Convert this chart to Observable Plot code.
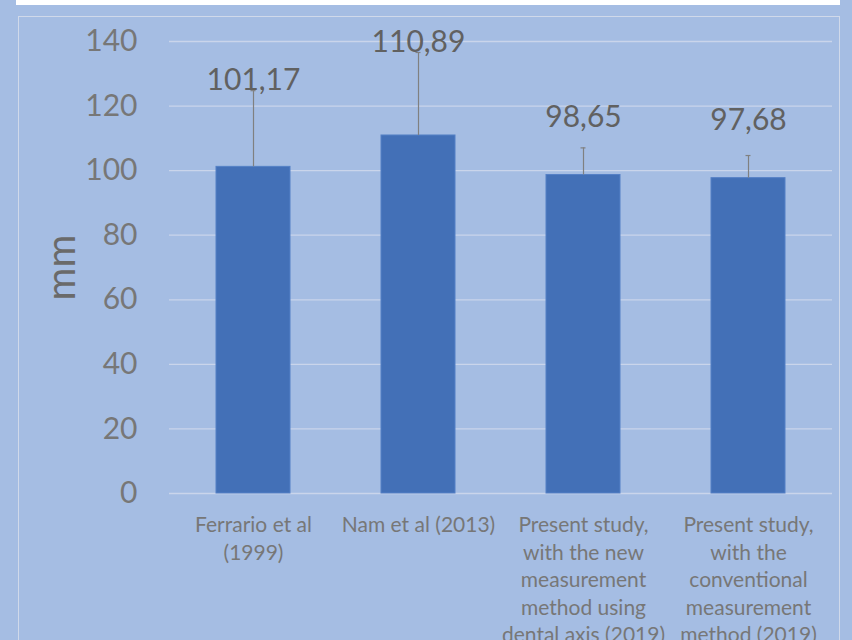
<!DOCTYPE html>
<html>
<head>
<meta charset="utf-8">
<script src="https://cdn.jsdelivr.net/npm/d3@7"></script>
<script src="https://cdn.jsdelivr.net/npm/@observablehq/plot@0.6"></script>
<style>
  html, body { margin: 0; padding: 0; background: #A5BDE3; width: 852px; height: 640px; overflow: hidden; }
  #wrap { position: relative; width: 852px; height: 640px; }
  #topbar { position: absolute; left: 16px; top: 0; width: 824px; height: 5px; background: #ffffff; }
  #frame { position: absolute; left: 17.5px; top: 15.5px; width: 822px; height: 660px; border: 1.5px solid #D0D9EA; box-sizing: border-box; }
  #chart { position: absolute; left: 0; top: 0; }
</style>
</head>
<body>
<div id="wrap">
  <div id="topbar"></div>
  <div id="frame"></div>
  <div id="chart"></div>
</div>
<script>
const categories = [
  "Ferrario et al\n(1999)",
  "Nam et al (2013)",
  "Present study,\nwith the new\nmeasurement\nmethod using\ndental axis (2019)",
  "Present study,\nwith the\nconventional\nmeasurement\nmethod (2019)"
];
const means = [101.17, 110.89, 98.65, 97.68];
const sds = [23.6, 25.7, 8.4, 7.0];
const yTicks = [0, 20, 40, 60, 80, 100, 120, 140];
const axisTitle = "mm";

const rows = categories.map((c, i) => ({ category: c, mean: means[i], sd: sds[i] }));
const fmt = v => v.toFixed(2).replace(".", ",");

const chart = Plot.plot({
  width: 852,
  height: 640,
  marginTop: 41,
  marginBottom: 147,
  marginLeft: 169,
  marginRight: 20,
  style: { background: "transparent", color: "#777777", fontFamily: "Lato, 'Open Sans', sans-serif", overflow: "visible" },
  x: { domain: categories, paddingInner: 0.553, paddingOuter: 0.2765, axis: null },
  y: { domain: [0, 140], axis: null },
  marks: [
    Plot.gridY(yTicks, { stroke: "#CAD5EB", strokeOpacity: 1, strokeWidth: 1.3 }),
    Plot.barY(rows, { x: "category", y: "mean", fill: "#4370B7", stroke: "#5580C6", strokeWidth: 1 }),
    Plot.ruleX(rows, { x: "category", y1: "mean", y2: d => d.mean + d.sd, stroke: "#808080", strokeWidth: 1.2 }),
    Plot.tickY(rows, { x: "category", y: d => d.mean + d.sd, stroke: "#808080", strokeWidth: 1.2, insetLeft: 34.5, insetRight: 34.5 }),
    Plot.text(rows, { x: "category", y: d => d.mean + Math.max(d.sd, 14.6), text: d => fmt(d.mean), lineAnchor: "bottom", dy: -1, fontSize: 30, fill: "#616161" }),
    Plot.axisY({ ticks: yTicks, tickSize: 0, tickPadding: 32, fontSize: 30, label: null }),
    Plot.axisX({ tickSize: 0, tickPadding: 19, fontSize: 21, lineHeight: 1.314, lineAnchor: "top", label: null }),
    Plot.text([axisTitle], { frameAnchor: "left", dx: -107, rotate: -90, textAnchor: "middle", lineAnchor: "middle", fontSize: 40, fill: "#6A6A6A" })
  ]
});
document.getElementById("chart").appendChild(chart);
</script>
</body>
</html>
